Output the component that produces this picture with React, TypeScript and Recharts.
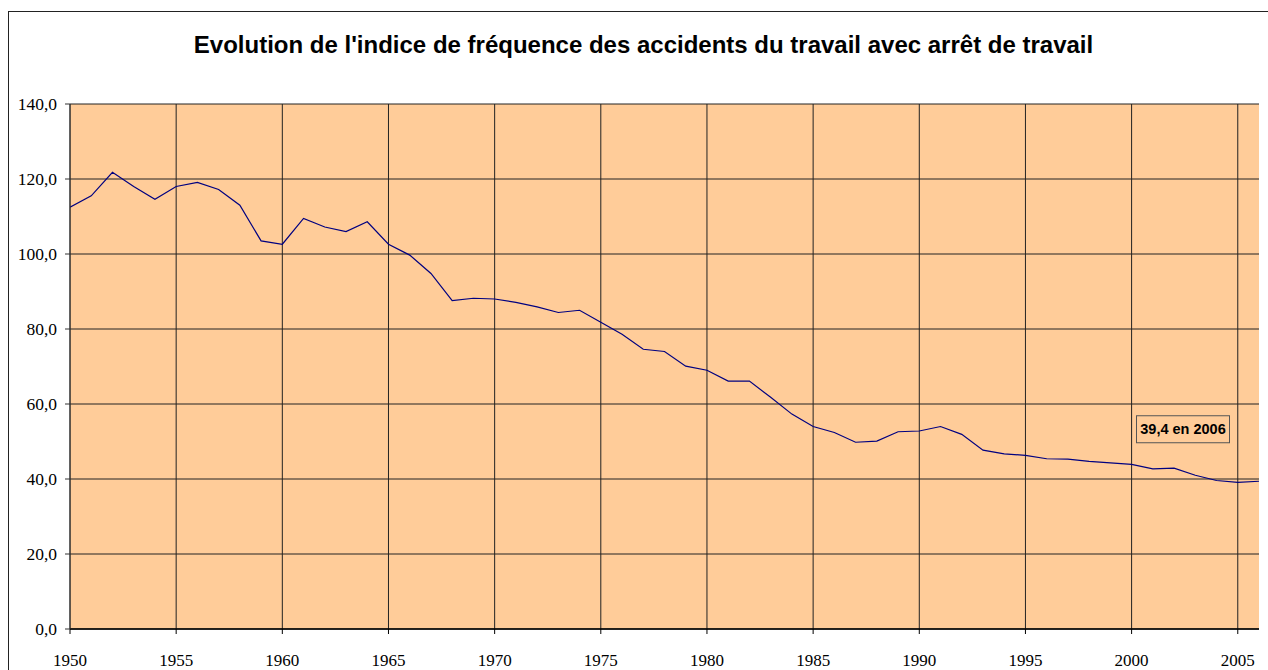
import React from "react";
import { LineChart, Line, XAxis, YAxis, CartesianGrid, LabelList } from "recharts";

const years: number[] = [
  1950, 1951, 1952, 1953, 1954, 1955, 1956, 1957, 1958, 1959,
  1960, 1961, 1962, 1963, 1964, 1965, 1966, 1967, 1968, 1969,
  1970, 1971, 1972, 1973, 1974, 1975, 1976, 1977, 1978, 1979,
  1980, 1981, 1982, 1983, 1984, 1985, 1986, 1987, 1988, 1989,
  1990, 1991, 1992, 1993, 1994, 1995, 1996, 1997, 1998, 1999,
  2000, 2001, 2002, 2003, 2004, 2005, 2006,
];

const indice: number[] = [
  112.5, 115.5, 121.8, 118.0, 114.6, 118.0, 119.1, 117.2, 113.0, 103.5,
  102.6, 109.5, 107.2, 106.0, 108.6, 102.6, 99.7, 94.8, 87.6, 88.2,
  88.0, 87.1, 85.9, 84.4, 85.0, 81.8, 78.6, 74.6, 74.0, 70.1,
  69.0, 66.1, 66.1, 61.8, 57.3, 54.0, 52.4, 49.8, 50.1, 52.6,
  52.8, 54.0, 51.9, 47.7, 46.7, 46.3, 45.4, 45.3, 44.7, 44.3,
  43.9, 42.7, 42.9, 41.0, 39.6, 39.1, 39.4,
];

const xTicks: number[] = [1950, 1955, 1960, 1965, 1970, 1975, 1980, 1985, 1990, 1995, 2000, 2005];
const yTicks: number[] = [0, 20, 40, 60, 80, 100, 120, 140];

const title = "Evolution de l'indice de fréquence des accidents du travail avec arrêt de travail";
const annotation = "39,4 en 2006";

const data = years.map((y, i) => ({ year: y, value: indice[i] }));
const lastIndex = data.length - 1;

const fmt = (v: number) => v.toFixed(1).replace(".", ",");

const AnnotationLabel = (props: any) => {
  const { x, y, index } = props;
  if (index !== lastIndex) return null;
  const w = 93;
  const h = 27;
  const cx = x - 76;
  const cy = y - 52;
  return (
    <g>
      <rect x={cx - w / 2} y={cy - h / 2} width={w} height={h} fill="#FFCC99" stroke="#555" strokeWidth={1} />
      <text
        x={cx}
        y={cy}
        dy="0.36em"
        textAnchor="middle"
        fontFamily="'Liberation Sans', Arial, sans-serif"
        fontWeight="bold"
        fontSize={14.5}
        fill="#000"
      >
        {annotation}
      </text>
    </g>
  );
};

export default function App() {
  return (
    <div style={{ position: "relative", width: 1268, height: 670, overflow: "hidden", background: "#fff" }}>
      <style>{`html,body{margin:0;padding:0;overflow:hidden;}`}</style>
      <div
        style={{
          position: "absolute",
          left: 8,
          top: 11,
          width: 1300,
          height: 700,
          borderLeft: "1.5px solid #222",
          borderTop: "1.5px solid #222",
          boxSizing: "border-box",
        }}
      />
      <div
        style={{
          position: "absolute",
          left: 0,
          top: 31,
          width: 1287,
          textAlign: "center",
          fontFamily: "'Liberation Sans', Arial, sans-serif",
          fontWeight: "bold",
          fontSize: 24,
          lineHeight: "28px",
          color: "#000",
          whiteSpace: "nowrap",
        }}
      >
        {title}
      </div>
      <div style={{ position: "absolute", left: 0, top: 0 }}>
        <LineChart width={1268} height={670} data={data} margin={{ top: 104, right: 9, bottom: 0, left: 8 }}>
          <CartesianGrid
            stroke="#222"
            strokeWidth={1}
            fill="#FFCC99"
            fillOpacity={1}
            horizontalValues={yTicks}
            verticalValues={xTicks}
          />
          <XAxis
            dataKey="year"
            type="number"
            domain={[1950, 2006]}
            ticks={xTicks}
            allowDataOverflow
            interval={0}
            height={41}
            tickSize={5}
            tickMargin={20}
            stroke="#000"
            axisLine={{ stroke: "#000", strokeWidth: 1.5 }}
            tickLine={{ stroke: "#000" }}
            tick={{ fill: "#000", fontSize: 17, fontFamily: "'Liberation Serif', 'Times New Roman', serif" }}
          />
          <YAxis
            type="number"
            domain={[0, 140]}
            ticks={yTicks}
            interval={0}
            width={62}
            tickSize={5}
            tickMargin={8}
            tickFormatter={fmt}
            axisLine={{ stroke: "#333", strokeWidth: 1 }}
            tickLine={{ stroke: "#333" }}
            tick={{ fill: "#000", fontSize: 17.5, fontFamily: "'Liberation Serif', 'Times New Roman', serif" }}
          />
          <Line
            type="linear"
            dataKey="value"
            stroke="#000080"
            strokeWidth={1.2}
            dot={false}
            isAnimationActive={false}
          >
            <LabelList dataKey="value" content={AnnotationLabel} />
          </Line>
        </LineChart>
      </div>
    </div>
  );
}
